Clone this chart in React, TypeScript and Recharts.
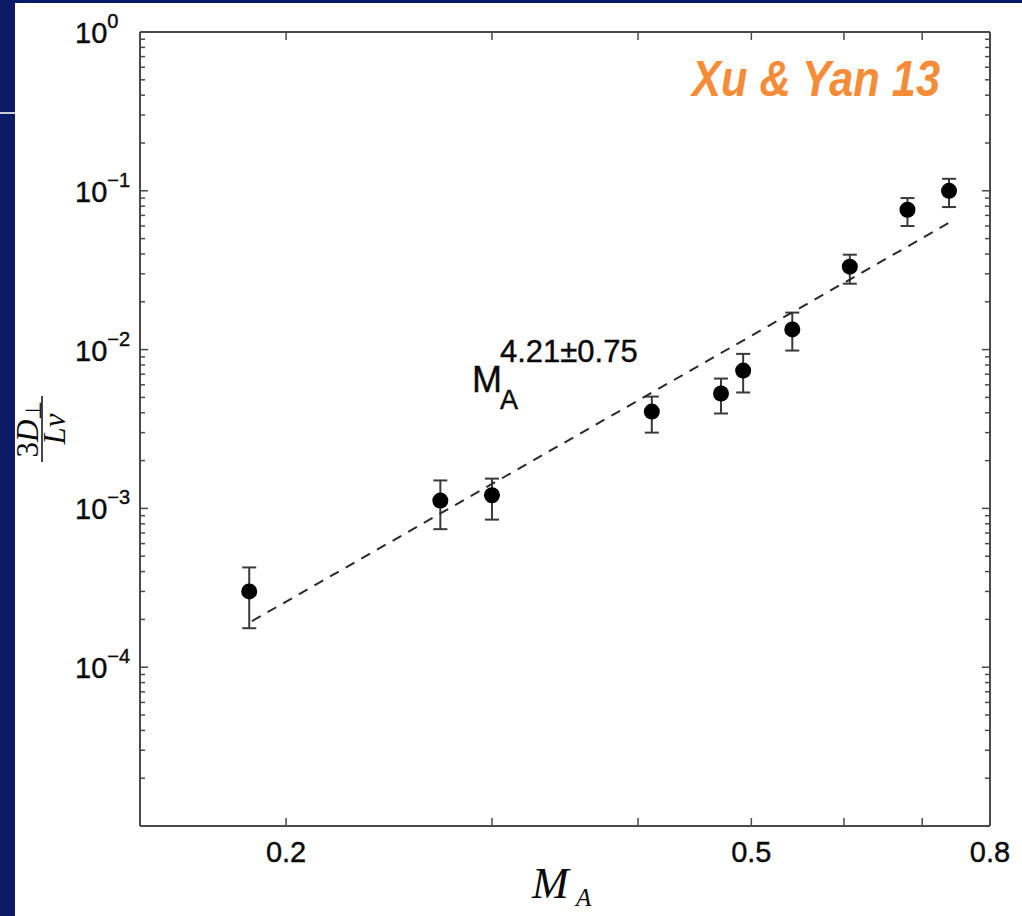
import React from "react";
import { ScatterChart, Scatter, XAxis, YAxis, ErrorBar, ReferenceLine } from "recharts";

// values (Xu & Yan 2013)
const MA = [0.186, 0.271, 0.3, 0.411, 0.471, 0.492, 0.542, 0.607, 0.68, 0.738];
const DIFF = [3.0e-4, 1.12e-3, 1.21e-3, 4.07e-3, 5.29e-3, 7.38e-3, 1.34e-2, 3.33e-2, 7.6e-2, 0.1];
const DIFF_LOW = [1.76e-4, 7.4e-4, 8.5e-4, 3.0e-3, 3.96e-3, 5.37e-3, 9.86e-3, 2.6e-2, 6.0e-2, 0.079];
const DIFF_HIGH = [4.25e-4, 1.5e-3, 1.54e-3, 5.06e-3, 6.57e-3, 9.4e-3, 1.71e-2, 3.96e-2, 9.0e-2, 0.119];

// dashed power-law fit, its two end points
const FIT_MA = [0.187, 0.738];
const FIT_DIFF = [1.95e-4, 6.29e-2];

const X_TICKS = [0.2, 0.3, 0.4, 0.5, 0.6, 0.7, 0.8];
const X_LABELS = [0.2, 0.5, 0.8];
const Y_DECADES = [1e-5, 1e-4, 1e-3, 1e-2, 1e-1, 1];
const Y_MINOR_STEPS = [2, 3, 4, 5, 6, 7, 8, 9];
const Y_LABELS = [-4, -3, -2, -1, 0];

const W = 1022;
const H = 916;
const MARGIN = { top: 32, right: 32, bottom: 30, left: 20 };
const Y_AXIS_W = 120;
const X_AXIS_H = 60;
const PLOT_LEFT = MARGIN.left + Y_AXIS_W;
const PLOT_RIGHT = W - MARGIN.right;
const PLOT_TOP = MARGIN.top;
const PLOT_BOTTOM = H - MARGIN.bottom - X_AXIS_H;

const NAVY = "#0b1a67";
const FRAME = "#4a4a4a";
const INK = "#0a0a0a";
const SANS = "'Liberation Sans', Arial, Helvetica, sans-serif";
const SERIF = "'Liberation Serif', 'Times New Roman', serif";

const points = MA.map((m, i) => ({
  ma: m,
  d: DIFF[i],
  err: [DIFF[i] - DIFF_LOW[i], DIFF_HIGH[i] - DIFF[i]],
}));
const fit = FIT_MA.map((m, i) => ({ ma: m, d: FIT_DIFF[i] }));

const yTicks: number[] = [];
Y_DECADES.forEach((dec, i) => {
  yTicks.push(dec);
  if (i < Y_DECADES.length - 1) Y_MINOR_STEPS.forEach((s) => yTicks.push(dec * s));
});

function XTick(props: any) {
  const { x, payload } = props;
  const v = payload.value;
  return (
    <g>
      <line x1={x} x2={x} y1={PLOT_BOTTOM} y2={PLOT_BOTTOM - 8} stroke={FRAME} strokeWidth={1.5} />
      <line x1={x} x2={x} y1={PLOT_TOP} y2={PLOT_TOP + 8} stroke={FRAME} strokeWidth={1.5} />
      {X_LABELS.includes(v) && (
        <text x={x} y={PLOT_BOTTOM + 36} textAnchor="middle" fontSize={29} fontFamily={SANS} fill={INK} stroke={INK} strokeWidth={0.4}>
          {v}
        </text>
      )}
    </g>
  );
}

function YTick(props: any) {
  const { y, payload } = props;
  const e = Math.log10(payload.value);
  const exp = Math.round(e);
  const major = Math.abs(e - exp) < 1e-6;
  const len = major ? 8 : 5;
  return (
    <g>
      <line x1={PLOT_LEFT} x2={PLOT_LEFT + len} y1={y} y2={y} stroke={FRAME} strokeWidth={1.5} />
      <line x1={PLOT_RIGHT} x2={PLOT_RIGHT - len} y1={y} y2={y} stroke={FRAME} strokeWidth={1.5} />
      {major && Y_LABELS.includes(exp) && (
        <text x={PLOT_LEFT - 65} y={y + 11} fontSize={29} fontFamily={SANS} fill={INK} stroke={INK} strokeWidth={0.4}>
          10
          <tspan dy={-15} fontSize={20}>
            {exp < 0 ? `\u2212${-exp}` : `${exp}`}
          </tspan>
        </text>
      )}
    </g>
  );
}

export default function App() {
  return (
    <div style={{ position: "absolute", left: 0, top: 0, width: W, height: H, background: NAVY, overflow: "hidden" }}>
      <div style={{ position: "absolute", left: 15, top: 3, right: 0, bottom: 0, background: "#fff" }} />
      <div style={{ position: "absolute", left: 0, top: 112, width: 15, height: 2, background: "#c9cbd8" }} />
      <div style={{ position: "absolute", left: 0, top: 0 }}>
        <ScatterChart width={W} height={H} margin={MARGIN}>
          <XAxis
            dataKey="ma"
            type="number"
            scale="log"
            domain={[0.15, 0.8]}
            allowDataOverflow
            ticks={X_TICKS}
            interval={0}
            height={X_AXIS_H}
            tickSize={0}
            tickMargin={0}
            tickLine={false}
            axisLine={{ stroke: FRAME, strokeWidth: 2 }}
            tick={<XTick />}
          />
          <YAxis
            dataKey="d"
            type="number"
            scale="log"
            domain={[1e-5, 1]}
            allowDataOverflow
            ticks={yTicks}
            interval={0}
            width={Y_AXIS_W}
            tickSize={0}
            tickMargin={0}
            tickLine={false}
            axisLine={{ stroke: FRAME, strokeWidth: 2 }}
            tick={<YTick />}
          />
          <ReferenceLine y={1} stroke={FRAME} strokeWidth={2} />
          <ReferenceLine x={0.8} stroke={FRAME} strokeWidth={2} />
          <Scatter
            data={fit}
            line={{ stroke: "#2a2a2a", strokeWidth: 2, strokeDasharray: "10 8" }}
            shape={() => <g />}
            isAnimationActive={false}
          />
          <Scatter
            data={points}
            fill="#000"
            shape={(p: any) => <circle cx={p.cx} cy={p.cy} r={8} fill="#000" />}
            isAnimationActive={false}
          >
            <ErrorBar dataKey="err" direction="y" width={7} stroke="#3a3a3a" strokeWidth={2} isAnimationActive={false} />
          </Scatter>
        </ScatterChart>
      </div>
      <svg width={W} height={H} style={{ position: "absolute", left: 0, top: 0, pointerEvents: "none" }}>
        <text
          x={692}
          y={96}
          fontFamily={SANS}
          fontWeight="bold"
          fontStyle="italic"
          fontSize={50}
          fill="#f68c38"
          textLength={248}
          lengthAdjust="spacingAndGlyphs"
        >
          Xu &amp; Yan 13
        </text>
        <g fill={INK} stroke={INK} strokeWidth={0.4} fontFamily={SANS}>
          <text x={472} y={392} fontSize={36}>
            M
          </text>
          <text x={500} y={362} fontSize={31}>
            4.21±0.75
          </text>
          <text x={500} y={409} fontSize={27}>
            A
          </text>
        </g>
        <text x={532} y={898} fontFamily={SERIF} fontStyle="italic" fontSize={44} fill={INK}>
          M
        </text>
        <text x={576} y={906} fontFamily={SERIF} fontStyle="italic" fontSize={25} fill={INK}>
          A
        </text>
        <g transform="translate(42,429) rotate(-90)" fill={INK}>
          <text x={0} y={-4} textAnchor="middle" fontFamily={SERIF} fontSize={31}>
            3<tspan fontStyle="italic">D</tspan>
            <tspan fontSize={22} dy={3}>
              ⊥
            </tspan>
          </text>
          <line x1={-33} x2={33} y1={0} y2={0} stroke={INK} strokeWidth={1.5} />
          <text x={0} y={23} textAnchor="middle" fontFamily={SERIF} fontStyle="italic" fontSize={31}>
            Lv
          </text>
        </g>
      </svg>
    </div>
  );
}
